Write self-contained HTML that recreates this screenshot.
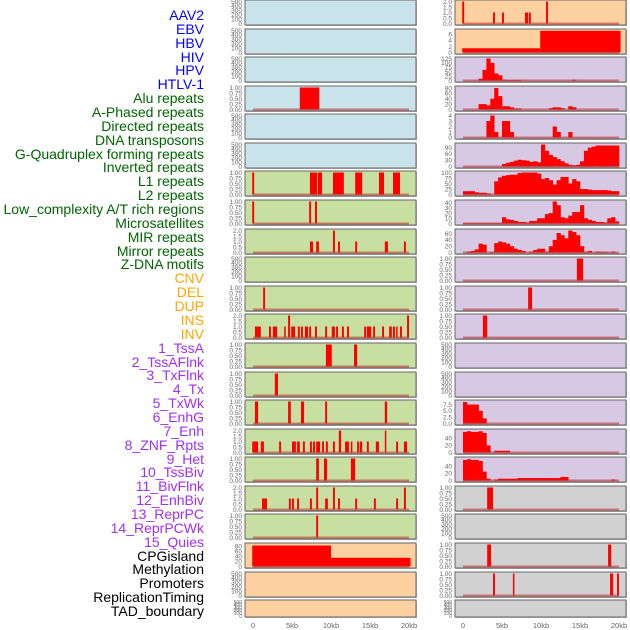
<!DOCTYPE html>
<html><head><meta charset="utf-8"><style>
html,body{margin:0;padding:0;background:#fff;}
#wrap{position:relative;width:630px;height:630px;overflow:hidden;}
#labels{position:absolute;left:0;top:0;width:204px;}
.lab{position:absolute;right:0;font:14px "Liberation Sans",sans-serif;white-space:nowrap;line-height:14px;}
svg{position:absolute;left:0;top:0;}
</style></head><body>
<div id="wrap">
<div id="labels"></div>
<svg id="svg" width="630" height="630"></svg>
</div>
<script>
// ---------- data ----------
const labelNames = ["AAV2","EBV","HBV","HIV","HPV","HTLV-1","Alu repeats","A-Phased repeats","Directed repeats","DNA transposons","G-Quadruplex forming repeats","Inverted repeats","L1 repeats","L2 repeats","Low_complexity A/T rich regions","Microsatellites","MIR repeats","Mirror repeats","Z-DNA motifs","CNV","DEL","DUP","INS","INV","1_TssA","2_TssAFlnk","3_TxFlnk","4_Tx","5_TxWk","6_EnhG","7_Enh","8_ZNF_Rpts","9_Het","10_TssBiv","11_BivFlnk","12_EnhBiv","13_ReprPC","14_ReprPCWk","15_Quies","CPGisland","Methylation","Promoters","ReplicationTiming","TAD_boundary"];
const labelGroups = [6,13,5,15,5];
const groupColors = ["#0000ff","#006400","#ffa500","#a030f0","#000000"];
const xTickValues = [0,5,10,15,20];
const xTickLabels = ["0","5kb","10kb","15kb","20kb"];

// left column segments: [start kb, end kb, value]
const L3 = [[6.0,8.5,1]];
const L6 = [[-0.1,0.15,1],[7.3,8.2,1],[8.3,8.85,1],[10.25,11.65,1],[13.1,14.0,1],[16.15,16.8,1],[17.95,18.85,1]];
const L7 = [[-0.1,0.15,1],[7.2,7.45,1],[7.95,8.2,1]];
const L8 = [[7.3,7.7,1],[8.1,8.45,1],[10.25,10.5,2],[10.9,11.15,1],[13.1,13.35,1],[16.9,17.3,1],[19.35,19.6,1]];
const L10 = [[1.3,1.55,1]];
const L11 = [[0.25,1.0,1],[2.05,2.3,1],[2.55,3.1,1],[4.0,4.2,1],[4.5,4.75,2],[4.9,5.4,1],[5.75,6.0,1],[6.15,6.4,1],[6.65,7.05,1],[7.2,7.45,1],[7.95,8.2,1],[9.25,9.5,1],[10.1,10.5,1],[10.65,10.9,1],[11.4,11.65,1],[12.05,12.3,1],[14.25,14.5,1],[14.6,15.15,1],[15.4,15.65,1],[16.55,16.8,1],[17.45,17.8,1],[17.95,18.2,1],[18.35,18.45,1],[18.85,19.1,1],[19.75,20.0,2]];
const L12 = [[9.35,10.1,1],[12.95,13.35,1]];
const L13 = [[2.8,3.2,1]];
const L14 = [[0.25,0.65,1],[4.5,4.85,1],[6.15,6.55,1],[9.25,9.5,1],[16.9,17.2,1]];
const L15 = [[-0.1,0.65,1],[1.0,1.4,1],[3.35,3.6,1],[5.0,5.5,1],[5.65,6.0,1],[6.4,6.65,1],[7.3,7.55,1],[7.7,7.95,1],[8.1,8.6,1],[8.85,9.1,1],[9.35,9.6,1],[10.25,10.5,1],[11.0,11.3,2],[11.8,12.3,1],[12.55,12.7,1],[13.35,13.6,1],[13.7,14.0,1],[14.6,14.85,1],[15.75,16.15,1],[16.9,17.05,2],[18.35,18.6,1],[19.35,19.75,1]];
const L16 = [[8.1,8.45,1],[9.1,9.5,1],[12.55,13.1,1]];
const L17 = [[1.15,1.8,1],[4.6,4.85,1],[5.0,5.25,1],[5.65,5.9,1],[7.3,7.55,1],[8.1,8.35,2],[9.25,9.6,1],[10.25,10.5,2],[10.9,11.15,1],[13.1,13.35,1],[15.5,15.75,1],[18.35,18.6,1],[19.35,19.6,2]];
const L18 = [[8.1,8.35,1]];
const L19 = [[-0.1,10.0,82],[10.0,20.2,34]];

// right column segments
const R0 = [[-0.1,0.15,2],[3.85,4.1,1],[5.0,5.25,1],[7.95,8.35,1],[8.45,8.7,1],[10.65,10.9,2]];
const R1 = [[-0.1,9.9,1.4],[9.9,20.2,7.2]];
const R9 = [[14.6,15.4,1]];
const R10 = [[8.35,8.85,1]];
const R11 = [[2.55,3.1,1]];
const R17 = [[3.1,3.85,1]];
const R19 = [[3.1,3.6,1],[18.6,19.0,1]];
const R20 = [[3.85,4.1,1],[6.4,6.55,1],[18.85,19.25,1],[19.75,20.0,1]];

// right column histograms: 0.5kb bins from 0 to 20kb
const binWidthKb = 0.5;
const H2 = [0,0,0,0,10,60,125,100,40,30,5,3,3,3,3,0,0,0,0,0,0,0,0,0,0,0,0,0,5,0,0,0,0,0,0,0,0,0,0,0];
const H3 = [0,0,0,0,20,20,15,40,80,50,12,12,8,4,4,0,0,0,0,0,0,0,5,8,8,5,0,12,8,0,0,0,0,0,0,0,0,0,0,0];
const H4 = [0,0,0,0,0,0,3,4,1,0,3,3,1,0,0,0,0,0,0,0,0,0,0,2,1,0,0,1,0,0,0,0,0,0,0,0,0,0,0,0];
const H5 = [0,0,0,0,0,0,0,0,0,0,12,18,22,28,32,30,28,22,25,20,105,75,55,45,35,25,15,8,6,8,25,75,90,95,100,100,100,100,100,100];
const H6 = [15,15,15,10,8,8,5,0,60,78,85,88,90,90,98,100,100,100,100,95,70,75,65,45,65,80,80,50,70,60,25,25,22,20,20,20,20,18,15,15];
const H7 = [1,1,1,1,1,1,1,1,1,1,12,8,7,5,3,3,2,5,5,10,10,18,20,42,35,12,10,15,22,22,35,10,7,5,3,3,2,10,12,4];
const H8 = [0,3,5,10,28,25,0,2,30,35,32,28,20,12,8,5,0,3,8,12,12,3,20,40,62,55,45,70,65,55,20,2,5,0,3,2,2,0,3,0];
const H14 = [8.5,7.5,7.5,7.5,5,2,0,0,0,0,0,0,0,0,0,0,0,0,0,0,0,0,0,0,0,0,0,0,0,0,0,0,0,0,0,0,0,0,0,0];
const H15 = [58,60,58,58,60,55,20,0,5,5,5,5,0,0,0,0,0,0,0,0,0,0,0,0,0,0,0,0,0,0,0,0,0,0,0,0,0,0,0,0];
const H16 = [58,60,58,58,55,25,5,0,3,5,5,5,5,5,7,7,7,7,7,7,7,7,7,7,7,10,10,0,0,0,0,0,0,0,0,0,0,0,3,0];

// tick sets
const T500 = [0,100,200,300,400,500];
const T1 = [0,0.25,0.5,0.75,1];
const T2 = [0,0.5,1,1.5,2];
const T80 = [0,20,40,60,80];

// ---------- layout ----------
const NS="http://www.w3.org/2000/svg";
const svg=document.getElementById('svg');
const labels=document.getElementById('labels');
const COLS=[{x0:245,x1:416,zero:253},{x0:455,x1:626,zero:463}];
const PXKB=7.8;
const BG={b:"#c8e3ea",g:"#c7e0a2",p:"#fdd09f",v:"#d7c8e3",k:"#d1d1d1"};
function rowTop(r){return Math.round(r*28.58);}
function rowH(r){return r===21?17:25;}
function xs(col,kb){return COLS[col].zero+kb*PXKB;}

// left/right panel specs
const leftSpec=[
 ["b",T500,500,0,null],["b",T500,500,0,null],["b",T500,500,0,null],["b",T1,1,2,L3],["b",T500,500,0,null],["b",T500,500,0,null],
 ["g",T1,1,2,L6],["g",T1,1,2,L7],["g",T2,2,1,L8],["g",T500,500,0,null],["g",T1,1,2,L10],["g",T2,2,1,L11],
 ["g",T1,1,2,L12],["g",T1,1,2,L13],["g",T1,1,2,L14],["g",T2,2,1,L15],["g",T1,1,2,L16],["g",T2,2,1,L17],["g",T1,1,2,L18],
 ["p",T80,86,0,L19],["p",T500,500,0,null],["p",T500,500,0,null]];
const rightSpec=[
 ["p",T2,2,1,R0],["p",[0,2,4,6],7.3,0,R1],["v",[0,25,50,75,100,125],125,0,H2],["v",T80,82,0,H3],["v",[0,1,2,3,4],4,0,H4],
 ["v",[0,30,60,90],105,0,H5],["v",[0,25,50,75,100],100,0,H6],["v",[0,10,20,30,40],42,0,H7],["v",[0,20,40,60],70,0,H8],
 ["v",T1,1,2,R9],["v",T1,1,2,R10],["v",T1,1,2,R11],["v",T500,500,0,null],["v",T500,500,0,null],
 ["v",[0,2.5,5,7.5],8.7,1,H14],["v",[0,20,40],62,0,H15],["v",[0,20,40],62,0,H16],
 ["k",T1,1,2,R17],["k",T500,500,0,null],["k",T1,1,2,R19],["k",T1,1,2,R20],["k",T500,500,0,null]];

function mk(tag,attrs){const e=document.createElementNS(NS,tag);for(const k in attrs)e.setAttribute(k,attrs[k]);return e;}

function drawPanel(col,r,spec){
  const [bg,ticks,ymax,dec,data]=spec;
  const c=COLS[col],top=rowTop(r),h=rowH(r),bot=top+h;
  const y=v=>bot-1.5-(v/ymax)*(h-3);
  const g=mk('g',{});
  
  
  svg.appendChild(g);
  const shadow=mk('rect',{x:c.x0+1,y:top+1,width:c.x1-c.x0,height:h,fill:'#bbb'});
  g.appendChild(shadow);
  const rect=mk('rect',{x:c.x0,y:top,width:c.x1-c.x0,height:h,fill:BG[bg],stroke:'#666','stroke-width':1});
  
  
  g.appendChild(rect);
  ticks.forEach(t=>{
    const tx=mk('text',{x:c.x0-3,y:y(t)+2.3,'text-anchor':'end','font-size':(h<20?5:6.5),fill:'#666','font-family':'Liberation Sans, sans-serif'});
    tx.textContent=t.toFixed(dec);
    
    
    g.appendChild(tx);
  });
  if(data){
    const isHist=typeof data[0]==='number';
    if(isHist){
      data.forEach((v,i)=>{
        if(v<=0)return;
        const x0=xs(col,i*binWidthKb),x1=xs(col,(i+1)*binWidthKb);
        const b=mk('rect',{x:x0,y:y(v),width:x1-x0+0.3,height:y(0)-y(v),fill:'#ff0000'});
        
        
        g.appendChild(b);
      });
    } else {
      data.forEach(s=>{
        const x0=xs(col,s[0]),x1=xs(col,s[1]);
        const b=mk('rect',{x:x0,y:y(s[2]),width:Math.max(1.5,x1-x0),height:y(0)-y(s[2]),fill:'#ff0000'});
        
        
        g.appendChild(b);
      });
    }
    const base=mk('line',{x1:xs(col,0),x2:xs(col,20),y1:y(0),y2:y(0),stroke:'rgba(190,40,40,0.55)','stroke-width':2});
    
    
    g.appendChild(base);
  }
}
leftSpec.forEach((s,r)=>drawPanel(0,r,s));
rightSpec.forEach((s,r)=>drawPanel(1,r,s));

// x axes
[0,1].forEach(col=>{
  xTickValues.forEach((v,i)=>{
    const t=mk('text',{x:xs(col,v),y:628,'text-anchor':'middle','font-size':7.5,fill:'#666','font-family':'Liberation Sans, sans-serif'});
    t.textContent=xTickLabels[i];
    
    
    svg.appendChild(t);
  });
});

// labels
let idx=0;
labelGroups.forEach((n,gi)=>{
  for(let k=0;k<n;k++){
    const d=document.createElement('div');
    d.className='lab';
    d.style.top=(8+idx*13.86)+'px';
    d.style.color=groupColors[gi];
    d.textContent=labelNames[idx];
    
    
    labels.appendChild(d);
    idx++;
  }
});
</script>
</body></html>
